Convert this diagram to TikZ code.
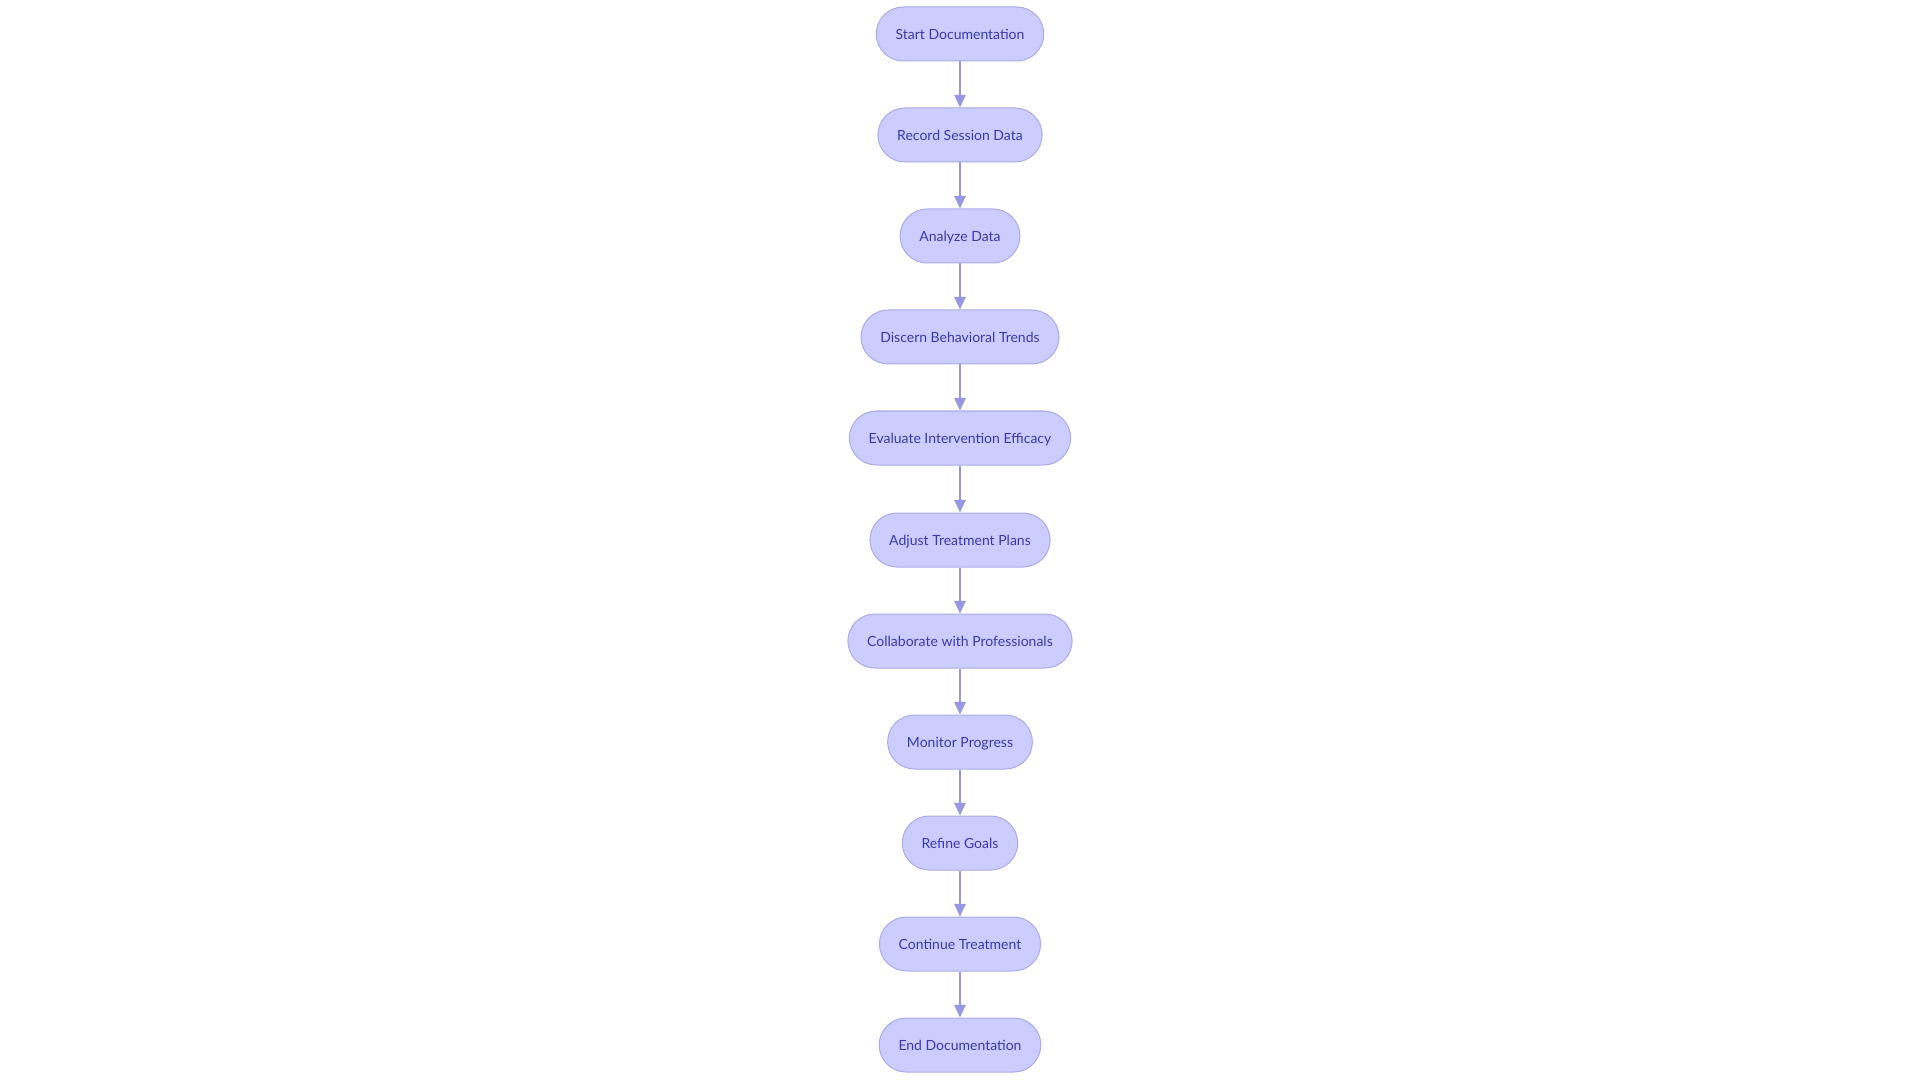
\documentclass[tikz,border=0pt]{standalone}
\usepackage{fontspec}
\setmainfont{Lato}
\usetikzlibrary{arrows.meta}
\definecolor{stepfill}{RGB}{204,204,255}
\definecolor{stepdraw}{RGB}{170,170,232}
\definecolor{steptext}{RGB}{57,57,170}
\definecolor{flowline}{RGB}{150,150,226}
\tikzset{
    %set default line width
    every picture/.style={line width=0.75pt},
    stage-box/.style={
        draw=stepdraw,
        fill=stepfill,
        text=steptext,
        font=\fontsize{10.5}{12}\selectfont,
        text height=7.6pt,
        text depth=0pt,
        minimum height=40.5pt,
        inner xsep=14.5pt,
        rounded corners=20.25pt,
    },
    flow/.style={
        draw=flowline,
        line width=1.5pt,
        -{Triangle[length=9.5pt,width=8.5pt]},
    }
}
\begin{document}
\begin{tikzpicture}[x=0.75pt,y=0.75pt,yscale=-1]
\useasboundingbox (0,0) rectangle (1920,1080);
%Stadium nodes
\node [stage-box] (start) at (960,34) {Start Documentation};
\node [stage-box] (record) at (960,135) {Record Session Data};
\node [stage-box] (analyze) at (960,236) {Analyze Data};
\node [stage-box] (discern) at (960,337) {Discern Behavioral Trends};
\node [stage-box] (evaluate) at (960,438) {Evaluate Intervention Efficacy};
\node [stage-box] (adjust) at (960,540) {Adjust Treatment Plans};
\node [stage-box] (collab) at (960,641) {Collaborate with Professionals};
\node [stage-box] (monitor) at (960,742) {Monitor Progress};
\node [stage-box] (refine) at (960,843) {Refine Goals};
\node [stage-box] (continue) at (960,944) {Continue Treatment};
\node [stage-box] (finish) at (960,1045) {End Documentation};
%Connectors
\draw [flow] (start) -- (record);
\draw [flow] (record) -- (analyze);
\draw [flow] (analyze) -- (discern);
\draw [flow] (discern) -- (evaluate);
\draw [flow] (evaluate) -- (adjust);
\draw [flow] (adjust) -- (collab);
\draw [flow] (collab) -- (monitor);
\draw [flow] (monitor) -- (refine);
\draw [flow] (refine) -- (continue);
\draw [flow] (continue) -- (finish);
\end{tikzpicture}
\end{document}
